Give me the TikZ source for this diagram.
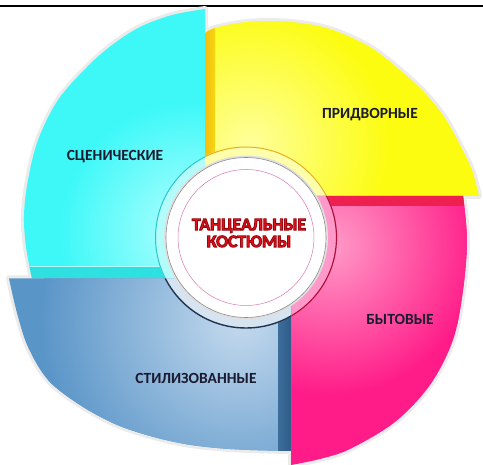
\documentclass[tikz,border=0pt]{standalone}
\usepackage{fontspec}
\setmainfont{Carlito}
\definecolor{cyface}{HTML}{3EF8F8}
\definecolor{cylight}{HTML}{B4FFFF}
\definecolor{cyside}{HTML}{2EE0E0}
\definecolor{cydark}{HTML}{22C8D0}
\definecolor{yeface}{HTML}{FCFC10}
\definecolor{yelight}{HTML}{FFFF9C}
\definecolor{yeside}{HTML}{F2BE10}
\definecolor{yedark}{HTML}{E8B020}
\definecolor{piface}{HTML}{FF1C88}
\definecolor{pilight}{HTML}{FF9CC8}
\definecolor{piside}{HTML}{EE2050}
\definecolor{pidark}{HTML}{B0103C}
\definecolor{blface}{HTML}{5A95C8}
\definecolor{bllight}{HTML}{C4DAEE}
\definecolor{blside}{HTML}{2F5C88}
\definecolor{bldark}{HTML}{1E3450}
\definecolor{labeltext}{HTML}{1A1A30}
\definecolor{titlered}{HTML}{E8141C}
\def\cyanshape{(205,278.5) -- (205,9) -- plot[smooth,tension=0.55] coordinates {(205,9) (172,15) (140,27) (112,45) (87,67) (58,100) (38,140) (28,180) (24,215) (26,247) (32,278.5)} -- cycle}
\def\yellowshape{(205,196) -- (205,33) -- plot[smooth,tension=0.55] coordinates {(205,33) (215,28) (240,23) (267,21) (300,23) (333,30) (370,47) (400,70) (425,93) (445,118) (460,145) (472,170) (479,196)} -- cycle}
\def\pinkshape{(291,196) -- (463,196) -- plot[smooth,tension=0.55] coordinates {(463,196) (467,240) (463,290) (453,340) (430,385) (395,422) (350,449) (320,459) (291,465)} -- cycle}
\def\blueshape{(291,278.5) -- (9,278.5) -- plot[smooth,tension=0.55] coordinates {(9,278.5) (17,313) (28,347) (48,380) (80,405) (115,424) (150,436) (185,444) (217,448) (250,450) (291,451)} -- cycle}
\def\outlinetext#1{\special{pdf:literal direct 2 Tr 0.9 w 0.6 0.02 0.05 RG}#1\special{pdf:literal direct 0 Tr 0 w}}
\tikzset{
  halo/.style={draw=black!8, line width=6pt, line join=round},
  lbl/.style={font=\bfseries\fontsize{15.5}{18}\selectfont, text=labeltext, inner sep=0pt},
  ttl/.style={font=\bfseries\fontsize{17.5}{17}\selectfont, align=center, inner sep=0pt}
}
\begin{document}
\begin{tikzpicture}[x=1pt,y=-1pt]
\useasboundingbox (0,0) rectangle (483,465);
\fill[white] (0,0) rectangle (483,465);
\draw[line width=2.3pt] (0,6) -- (483,6);
% halos
\draw[halo] \cyanshape;
\draw[halo] \yellowshape;
\draw[halo] \pinkshape;
\draw[halo] \blueshape;
\coordinate (c) at (246,237.5);
% cyan
\begin{scope}
\clip \cyanshape;
\fill[cyface] (0,0) rectangle (210,280);
\shade[inner color=cylight, outer color=cyface] (190,232) circle[radius=130pt];
\fill[cyside] (0,266) rectangle (205,279);
\draw[white!60!cyface, line width=0.8pt] (0,266) -- (205,266);
\fill[cyface!40!white] (c) circle[radius=91pt];
\draw[cydark, line width=1pt] (c) circle[radius=90.5pt];
\end{scope}
% yellow
\begin{scope}
\clip \yellowshape;
\fill[yeface] (200,0) rectangle (483,200);
\shade[inner color=yelight, outer color=yeface] (250,145) circle[radius=140pt];
\shade[left color=yeside, right color=yeside!60!yeface] (205,0) rectangle (215,200);
\fill[yeface!35!white] (c) circle[radius=91pt];
\draw[yedark, line width=1pt] (c) circle[radius=90.5pt];
\end{scope}
% pink
\begin{scope}
\clip \pinkshape;
\fill[piface] (285,190) rectangle (483,465);
\shade[inner color=pilight, outer color=piface] (330,245) circle[radius=150pt];
\fill[piside] (285,196) rectangle (483,206);
\fill[piface!45!white] (c) circle[radius=91pt];
\draw[pidark, line width=1.2pt] (c) circle[radius=90.5pt];
\end{scope}
% blue
\begin{scope}
\clip \blueshape;
\fill[blface] (0,275) rectangle (295,465);
\shade[inner color=bllight, outer color=blface] (240,320) circle[radius=200pt];
\shade[left color=blside!70!blface, right color=blside] (278,275) rectangle (291,465);
\fill[blface!25!white] (c) circle[radius=91pt];
\draw[bldark, line width=1.4pt] (c) circle[radius=90.5pt];
\end{scope}
% centre disc
\fill[black!12] (c) circle[radius=82pt];
\fill[white] (c) circle[radius=80pt];
\draw[black!45, line width=0.6pt] (c) circle[radius=80pt];
\draw[magenta!50!violet!60!white, line width=0.5pt] (c) circle[radius=68pt];
% labels
\node[lbl] (sc) at (115,157) {СЦЕНИЧЕСКИЕ};
\node[lbl] (pr) at (370,115) {ПРИДВОРНЫЕ};
\node[lbl] (by) at (400,319) {БЫТОВЫЕ};
\node[lbl] (st) at (196,378) {СТИЛИЗОВАННЫЕ};
\node[ttl, text=titlered] (title) at (249,233) {\outlinetext{ТАНЦЕАЛЬНЫЕ}\\\outlinetext{КОСТЮМЫ}};
\end{tikzpicture}
\end{document}
